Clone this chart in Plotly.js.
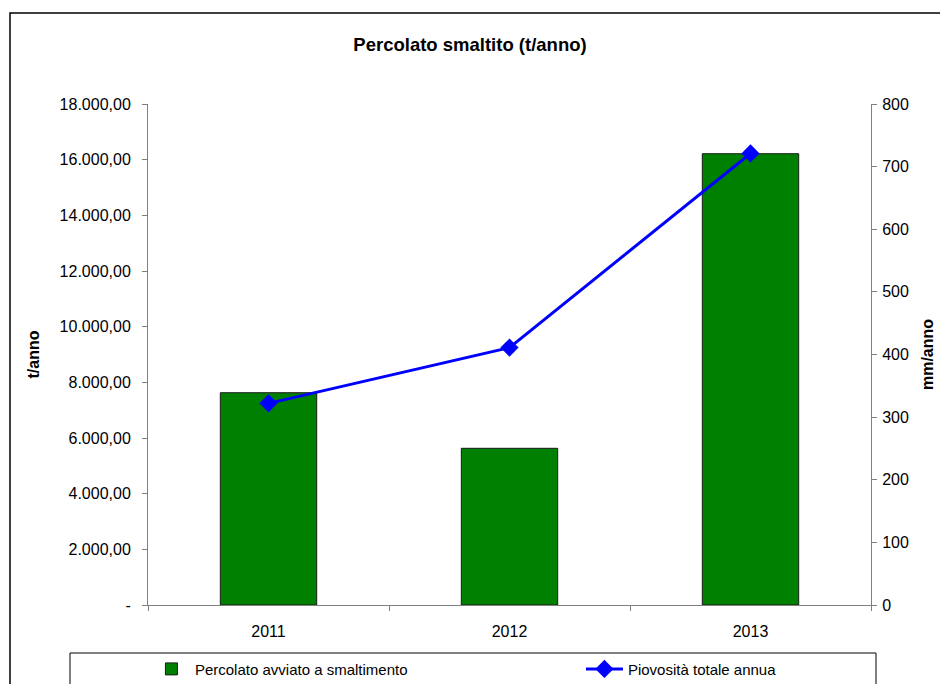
<!DOCTYPE html>
<html>
<head>
<meta charset="utf-8">
<script src="https://cdn.plot.ly/plotly-3.0.1.min.js"></script>
<style>
  html, body { margin: 0; padding: 0; background: #fff; }
  #chart { width: 940px; height: 684px; }
</style>
</head>
<body>
<div id="chart"></div>
<script>
// ---- data ----
const years = ["2011", "2012", "2013"];
const percolato = [7627, 5630, 16214];      // t/anno
const piovosita = [322, 411, 721];          // mm/anno
const leftTickVals = [0, 2000, 4000, 6000, 8000, 10000, 12000, 14000, 16000, 18000];
const leftTickText = ["-", "2.000,00", "4.000,00", "6.000,00", "8.000,00", "10.000,00", "12.000,00", "14.000,00", "16.000,00", "18.000,00"];
const rightTickVals = [0, 100, 200, 300, 400, 500, 600, 700, 800];
const barName = "Percolato avviato a smaltimento";
const lineName = "Piovosità totale annua";
const titleText = "Percolato smaltito (t/anno)";
const leftTitle = "t/anno";
const rightTitle = "mm/anno";

const FONT = "Liberation Sans, Arial, sans-serif";

const traces = [
  {
    type: "bar",
    name: barName,
    x: years,
    y: percolato,
    marker: { color: "#008000", line: { color: "#1a1a1a", width: 1 } },
    xaxis: "x",
    yaxis: "y"
  },
  {
    type: "scatter",
    mode: "lines+markers",
    name: lineName,
    x: years,
    y: piovosita,
    line: { color: "#0000ff", width: 3 },
    marker: { symbol: "diamond", size: 14, color: "#0000ff" },
    xaxis: "x",
    yaxis: "y2"
  }
];

const axisCommon = {
  showgrid: false,
  zeroline: false,
  showline: true,
  linecolor: "#808080",
  linewidth: 1,
  ticks: "outside",
  ticklen: 5,
  tickcolor: "#808080",
  tickfont: { family: FONT, size: 16, color: "#000" }
};

const layout = {
  width: 940,
  height: 684,
  margin: { l: 148, r: 69, t: 104, b: 79, autoexpand: false },
  paper_bgcolor: "#fff",
  plot_bgcolor: "#fff",
  font: { family: FONT, color: "#000" },
  title: {
    text: "<b>" + titleText + "</b>",
    font: { family: FONT, size: 18.5, color: "#000" },
    x: 0.5, xref: "container", xanchor: "center",
    y: 1 - 45 / 684, yref: "container", yanchor: "middle"
  },
  bargap: 0.6,
  showlegend: true,
  legend: {
    orientation: "h",
    x: -0.0001, xanchor: "left",
    y: -0.128, yanchor: "middle",
    itemwidth: 37,
    entrywidth: 381, entrywidthmode: "pixels",
    font: { family: FONT, size: 15, color: "#000" },
    bgcolor: "rgba(0,0,0,0)",
    traceorder: "normal"
  },
  xaxis: Object.assign({}, axisCommon, {
    type: "category",
    tickson: "boundaries",
    ticklabelstandoff: 12,
    range: [-0.5, 2.5]
  }),
  yaxis: Object.assign({}, axisCommon, {
    range: [0, 18000],
    tickvals: leftTickVals,
    ticktext: leftTickText,
    ticklabelstandoff: 8,
    title: { text: "<b>" + leftTitle + "</b>", font: { family: FONT, size: 16, color: "#000" }, standoff: 16 }
  }),
  yaxis2: Object.assign({}, axisCommon, {
    overlaying: "y",
    side: "right",
    anchor: "x",
    range: [0, 800],
    tickvals: rightTickVals,
    ticklabelstandoff: 2,
    title: { text: "<b>" + rightTitle + "</b>", font: { family: FONT, size: 16, color: "#000" }, standoff: 13 }
  }),
  // inner halves of the crossing tick marks
  xaxis2: {
    overlaying: "x", type: "category", range: [-0.5, 2.5],
    tickson: "boundaries", ticks: "inside", ticklen: 5, tickcolor: "#808080",
    showticklabels: false, showgrid: false, zeroline: false, showline: false,
    categoryarray: years, tickvals: years, anchor: "y"
  },
  yaxis3: {
    overlaying: "y", side: "left", anchor: "x", range: [0, 18000],
    tickvals: leftTickVals, ticks: "inside", ticklen: 5, tickcolor: "#808080",
    showticklabels: false, showgrid: false, zeroline: false, showline: false
  },
  yaxis4: {
    overlaying: "y", side: "right", anchor: "x", range: [0, 800],
    tickvals: rightTickVals, ticks: "inside", ticklen: 5, tickcolor: "#808080",
    showticklabels: false, showgrid: false, zeroline: false, showline: false
  },
  shapes: [
    // outer chart border
    { type: "rect", xref: "paper", yref: "paper",
      x0: (10 - 148) / 723, x1: 1.2, y0: -0.3, y1: (605 - 13) / 501,
      line: { color: "#000", width: 1.5 }, fillcolor: "rgba(0,0,0,0)", layer: "below" },
    // legend box
    { type: "rect", xref: "paper", yref: "paper",
      x0: (70 - 148) / 723, x1: (876 - 148) / 723, y0: -0.3, y1: (605 - 653) / 501,
      line: { color: "#000", width: 1 }, fillcolor: "rgba(0,0,0,0)", layer: "below" }
  ]
};

Plotly.newPlot("chart", traces, layout, { displayModeBar: false, staticPlot: true });
</script>
</body>
</html>
